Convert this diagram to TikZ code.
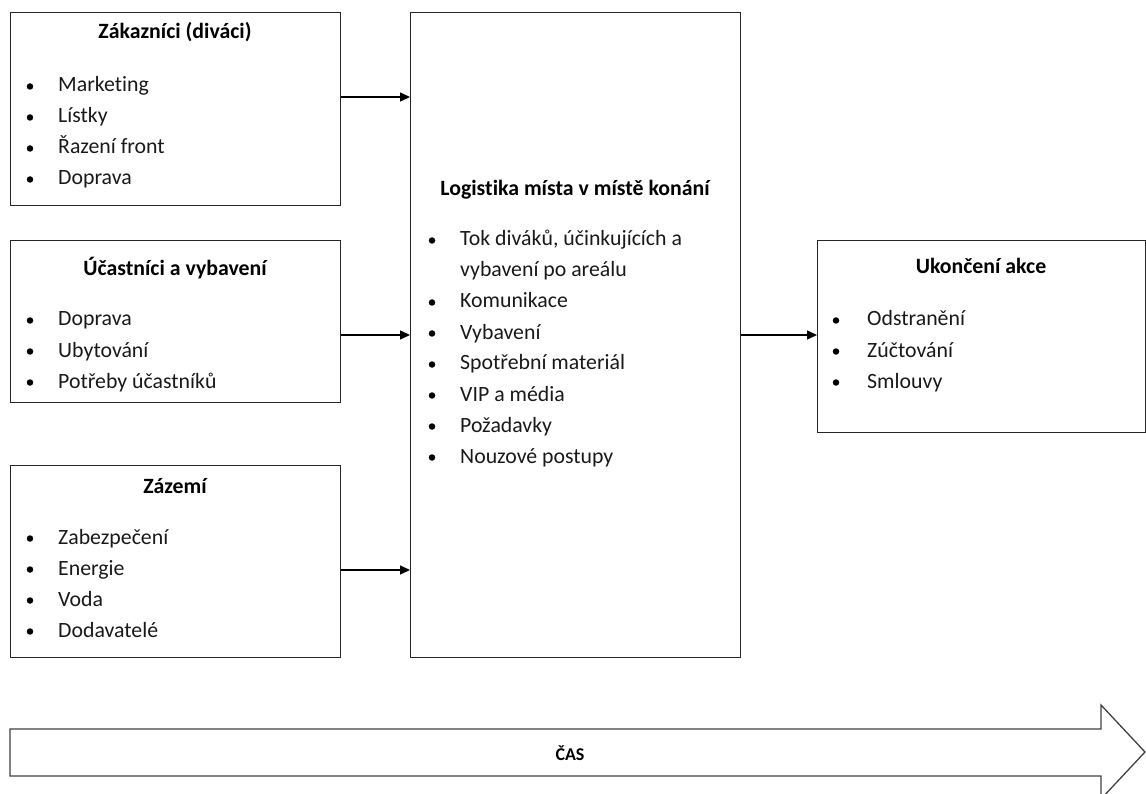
\documentclass[tikz,border=0pt]{standalone}
\usepackage{fontspec}
\setmainfont{Carlito}[Ligatures={NoCommon}]
\usetikzlibrary{arrows.meta}
\begin{document}
\begin{tikzpicture}[x=1pt,y=-1pt,
  box/.style={draw=black!85,line width=1.3pt,inner sep=0pt,anchor=north west},
  ttl/.style={font=\fontsize{21.8}{26}\selectfont\bfseries,anchor=base,inner sep=0pt,text=black},
  itm/.style={font=\fontsize{21.8}{26}\selectfont,anchor=base west,inner sep=0pt,text=black!90},
  bul/.style={circle,fill=black,inner sep=0pt,minimum size=6.5pt},
  conn/.style={-{Triangle[length=10pt,width=9pt]},line width=1.3pt}]
\useasboundingbox (0,0) rectangle (1146,794);
% boxes
\node[box,minimum width=330pt,minimum height=193pt] (b1) at (10,12) {};
\node[box,minimum width=330pt,minimum height=162pt] (b2) at (10,240) {};
\node[box,minimum width=330pt,minimum height=192pt] (b3) at (10,465) {};
\node[box,minimum width=330pt,minimum height=645pt] (c) at (410,12) {};
\node[box,minimum width=328pt,minimum height=192pt] (r) at (817,240) {};
% box 1
\node[ttl] (t1) at (175,39) {Zákazníci (diváci)};
\foreach \y/\t [count=\i] in {92/Marketing,123/Lístky,154/Řazení front,185/Doprava}{
  \node[bul] (b1b\i) at (30,\y-5.5) {};
  \node[itm] (b1i\i) at (58,\y) {\t};
}
% box 2
\node[ttl] (t2) at (175,276) {Účastníci a vybavení};
\foreach \y/\t [count=\i] in {326/Doprava,357/Ubytování,388/Potřeby účastníků}{
  \node[bul] (b2b\i) at (30,\y-5.5) {};
  \node[itm] (b2i\i) at (58,\y) {\t};
}
% box 3
\node[ttl] (t3) at (175,493) {Zázemí};
\foreach \y/\t [count=\i] in {544/Zabezpečení,575/Energie,606/Voda,637/Dodavatelé}{
  \node[bul] (b3b\i) at (30,\y-5.5) {};
  \node[itm] (b3i\i) at (58,\y) {\t};
}
% center
\node[ttl] (tc) at (575,196) {Logistika místa v místě konání};
\node[bul] (cb0) at (432,240.5) {};
\node[itm] (ci0) at (460,246) {Tok diváků, účinkujících a};
\node[itm] (ci0b) at (460,277) {vybavení po areálu};
\foreach \y/\t [count=\i] in {308/Komunikace,339/Vybavení,370/Spotřební materiál,401/VIP a média,432/Požadavky,463/Nouzové postupy}{
  \node[bul] (cb\i) at (432,\y-5.5) {};
  \node[itm] (ci\i) at (460,\y) {\t};
}
% right
\node[ttl] (tr) at (981,274) {Ukončení akce};
\foreach \y/\t [count=\i] in {326/Odstranění,357/Zúčtování,388/Smlouvy}{
  \node[bul] (rb\i) at (836,\y-5.5) {};
  \node[itm] (ri\i) at (867,\y) {\t};
}
% connectors
\coordinate (a1) at (0,97);
\coordinate (a2) at (0,335);
\coordinate (a3) at (0,570);
\draw[conn] (b1.east |- a1) -- (c.west |- a1);
\draw[conn] (b2.east |- a2) -- (c.west |- a2);
\draw[conn] (b3.east |- a3) -- (c.west |- a3);
\draw[conn] (c.east |- a2) -- (r.west |- a2);
% time arrow
\draw[line width=1.3pt,draw=black!75,line join=miter]
  (10,729) -- (1101,729) -- (1101,705) -- (1145,752) -- (1101,799) -- (1101,776) -- (10,776) -- cycle;
\node[font=\fontsize{18}{22}\selectfont\bfseries,text=black] (cas) at (570,753) {ČAS};
\end{tikzpicture}
\end{document}
